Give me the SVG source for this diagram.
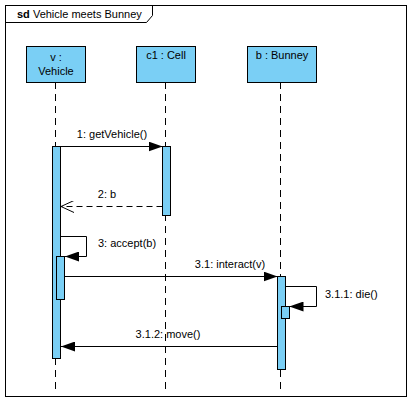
<svg xmlns="http://www.w3.org/2000/svg" width="412" height="401" viewBox="0 0 412 401">
<style>
text{font-family:"Liberation Sans",Arial,sans-serif;font-size:11px;fill:#000}
.box{fill:#7ACFF5;stroke:#000;stroke-width:1}
.act{fill:#7ACFF5;stroke:#000;stroke-width:1}
.life{stroke:#000;stroke-width:1;stroke-dasharray:7,5;fill:none}
.msg{stroke:#000;stroke-width:1;fill:none}
.ret{stroke:#000;stroke-width:1;fill:none;stroke-dasharray:6,4}
</style>
<defs>
<marker id="fill" viewBox="0 0 14 10" refX="14" refY="5" markerWidth="14" markerHeight="10" markerUnits="userSpaceOnUse" orient="auto"><path d="M0,0 L14,5 L0,10 Z" fill="#000"/></marker>
<marker id="open" viewBox="0 0 14 12" refX="13" refY="6" markerWidth="14" markerHeight="12" markerUnits="userSpaceOnUse" orient="auto"><path d="M0,0 L13,6 L0,12" fill="none" stroke="#000" stroke-width="1"/></marker>
</defs>
<rect x="0" y="0" width="412" height="401" fill="#fff"/>
<g id="frame">
<rect x="5.5" y="5.5" width="401" height="391" fill="none" stroke="#000"/>
<path d="M5.5,22.5 H146.5 L152.5,15.5 V5.5" fill="none" stroke="#000"/>
<text x="17" y="18"><tspan font-weight="bold">sd</tspan> Vehicle meets Bunney</text>
</g>
<g id="lifelines">
<line class="life" x1="55.5" y1="82" x2="55.5" y2="392"/>
<line class="life" x1="165.5" y1="82" x2="165.5" y2="392"/>
<line class="life" x1="280.5" y1="82" x2="280.5" y2="392"/>
</g>
<g id="v">
<rect class="box" x="26.5" y="46.5" width="59" height="36"/>
<text x="56" y="61" text-anchor="middle">v :</text>
<text x="56" y="75" text-anchor="middle">Vehicle</text>
</g>
<g id="c1">
<rect class="box" x="136.5" y="46.5" width="59" height="36"/>
<text x="166" y="59" text-anchor="middle">c1 : Cell</text>
</g>
<g id="b">
<rect class="box" x="247.5" y="46.5" width="69" height="36"/>
<text x="282" y="59" text-anchor="middle">b : Bunney</text>
</g>
<g id="activations">
<rect class="act" x="52.5" y="146.5" width="8" height="212"/>
<rect class="act" x="56.5" y="256.5" width="8" height="43"/>
<rect class="act" x="162.5" y="146.5" width="8" height="69"/>
<rect class="act" x="277.5" y="276.5" width="8" height="93"/>
<rect class="act" x="281.5" y="306.5" width="8" height="12"/>
</g>
<g id="connectors">
<line class="msg" x1="60.5" y1="146.5" x2="162.5" y2="146.5" marker-end="url(#fill)"/>
<text x="112" y="138" text-anchor="middle">1: getVehicle()</text>
<line class="ret" x1="162.5" y1="206.5" x2="61" y2="206.5" marker-end="url(#open)"/>
<text x="107" y="198" text-anchor="middle">2: b</text>
<path class="msg" d="M60.5,236.5 H86.5 V256.5 H65" marker-end="url(#fill)"/>
<text x="98" y="247">3: accept(b)</text>
<line class="msg" x1="64.5" y1="276.5" x2="277.5" y2="276.5" marker-end="url(#fill)"/>
<text x="230" y="268" text-anchor="middle">3.1: interact(v)</text>
<path class="msg" d="M285.5,286.5 H316.5 V306.5 H289.5" marker-end="url(#fill)"/>
<text x="325" y="298">3.1.1: die()</text>
<line class="msg" x1="277.5" y1="346.5" x2="61" y2="346.5" marker-end="url(#fill)"/>
<text x="168" y="338" text-anchor="middle">3.1.2: move()</text>
</g>
</svg>
